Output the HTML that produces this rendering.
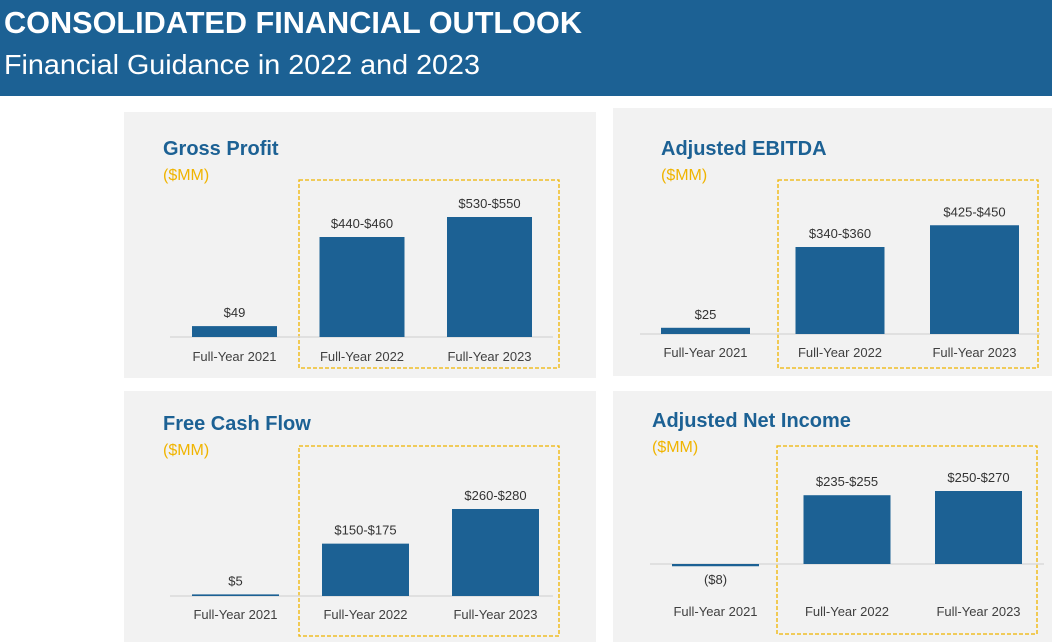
<!DOCTYPE html>
<html><head><meta charset="utf-8">
<style>
html,body{margin:0;padding:0;background:#fff;width:1052px;height:642px;overflow:hidden;font-family:"Liberation Sans",sans-serif;}
svg text{font-family:"Liberation Sans",sans-serif;}
</style></head>
<body>
<svg id="page" width="1052" height="642" viewBox="0 0 1052 642" xmlns="http://www.w3.org/2000/svg">
  <rect x="0" y="0" width="1052" height="96" fill="#1c6194"/>
  <text x="4" y="33" fill="#fff" font-size="30.5" font-weight="bold" textLength="578" lengthAdjust="spacingAndGlyphs">CONSOLIDATED FINANCIAL OUTLOOK</text>
  <text x="4" y="74" fill="#fff" font-size="28" textLength="476" lengthAdjust="spacingAndGlyphs">Financial Guidance in 2022 and 2023</text>
  <g id="panels"></g>
</svg>
<script>
// Gross Profit
const gpCategories = ["Full-Year 2021","Full-Year 2022","Full-Year 2023"];
const gpValues = [49, 450, 540];
const gpLabels = ["$49","$440-$460","$530-$550"];
// Adjusted EBITDA
const ebCategories = ["Full-Year 2021","Full-Year 2022","Full-Year 2023"];
const ebValues = [25, 350, 437.5];
const ebLabels = ["$25","$340-$360","$425-$450"];
// Free Cash Flow
const fcCategories = ["Full-Year 2021","Full-Year 2022","Full-Year 2023"];
const fcValues = [5, 162.5, 270];
const fcLabels = ["$5","$150-$175","$260-$280"];
// Adjusted Net Income
const niCategories = ["Full-Year 2021","Full-Year 2022","Full-Year 2023"];
const niValues = [-8, 245, 260];
const niLabels = ["($8)","$235-$255","$250-$270"];

const NS = "http://www.w3.org/2000/svg";
const root = document.getElementById("panels");
function mk(tag, attrs, parent, txt){
  const e = document.createElementNS(NS, tag);
  for (const k in attrs) e.setAttribute(k, attrs[k]);
  if (txt !== undefined) e.textContent = txt;
  parent.appendChild(e);
  return e;
}
function panel(cfg, cats, vals, labels){
  const g = mk("g", {}, root);
  
  
  const bg = mk("rect", {x:cfg.px, y:cfg.py, width:cfg.pw, height:cfg.ph, fill:"#f2f2f2"}, g);
  
  
  const t = mk("text", {x:cfg.tx, y:cfg.ty, fill:"#1c6194", "font-size":20, "font-weight":"bold"}, g, cfg.title);
  
  
  const u = mk("text", {x:cfg.tx, y:cfg.ty+25, fill:"#f0b400", "font-size":16}, g, "($MM)");
  
  
  const box = mk("rect", {x:cfg.bx, y:cfg.by, width:cfg.bw, height:cfg.bh, fill:"none", stroke:"#f0b400", "stroke-width":1.3, "stroke-dasharray":"4,2"}, g);
  
  
  const ax = mk("line", {x1:cfg.ax1, x2:cfg.ax2, y1:cfg.base, y2:cfg.base, stroke:"#d9d9d9", "stroke-width":1.5}, g);
  
  
  const y = v => cfg.base - v * cfg.scale;
  const xc = i => cfg.x0 + i * cfg.step;
  vals.forEach((v, i) => {
    const top = Math.min(y(v), cfg.base), h = Math.max(Math.abs(y(v) - cfg.base), 1.5);
    const b = mk("rect", {x:xc(i)-cfg.bwid/2, y:top, width:cfg.bwid, height:h, fill:"#1c6194"}, g);
    
    
    const ly = v >= 0 ? y(v) - 9 : cfg.base + h + 18;
    const l = mk("text", {x:xc(i), y:ly, "text-anchor":"middle", fill:"#333", "font-size":13}, g, labels[i]);
    
    
    const c = mk("text", {x:xc(i), y:cfg.catY, "text-anchor":"middle", fill:"#404040", "font-size":13}, g, cats[i]);
    
    
  });
}
panel({name:"gross-profit", title:"Gross Profit", px:124, py:112, pw:472, ph:266, tx:163, ty:155,
  bx:299, by:180, bw:260, bh:188, ax1:170, ax2:553, base:337, scale:100/450, x0:234.5, step:127.5, bwid:85, catY:361},
  gpCategories, gpValues, gpLabels);
panel({name:"adjusted-ebitda", title:"Adjusted EBITDA", px:613, py:108, pw:439, ph:268, tx:661, ty:155,
  bx:778, by:180, bw:260, bh:188, ax1:640, ax2:1040, base:334, scale:87/350, x0:705.5, step:134.5, bwid:89, catY:357},
  ebCategories, ebValues, ebLabels);
panel({name:"free-cash-flow", title:"Free Cash Flow", px:124, py:391, pw:472, ph:251, tx:163, ty:430,
  bx:299, by:446, bw:260, bh:190, ax1:170, ax2:553, base:596, scale:87/270, x0:235.5, step:130, bwid:87, catY:619},
  fcCategories, fcValues, fcLabels);
panel({name:"adjusted-net-income", title:"Adjusted Net Income", px:613, py:391, pw:439, ph:251, tx:652, ty:427,
  bx:777, by:446, bw:260, bh:188, ax1:650, ax2:1044, base:564, scale:73/260, x0:715.5, step:131.5, bwid:87, catY:616},
  niCategories, niValues, niLabels);
</script>
</body></html>
